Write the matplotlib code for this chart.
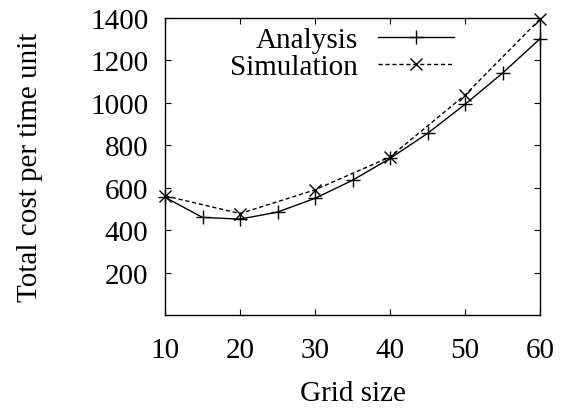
import matplotlib
matplotlib.use("Agg")
import matplotlib.pyplot as plt

grid_analysis = [10, 15, 20, 25, 30, 35, 40, 45, 50, 55, 60]
cost_analysis = [555, 460, 452, 485, 550, 635, 738, 856, 993, 1140, 1302]
grid_sim = [10, 20, 30, 40, 50, 60]
cost_sim = [562, 478, 590, 745, 1037, 1395]
xticks = [10, 20, 30, 40, 50, 60]
yticks = [200, 400, 600, 800, 1000, 1200, 1400]

plt.rcParams['font.family'] = ['Liberation Serif', 'DejaVu Serif']
plt.rcParams['font.size'] = 21

fig = plt.figure(figsize=(5.71, 4.10), dpi=100)
ax = fig.add_axes([165/571, 1-316/410, 375/571, 297/410])

ax.plot(grid_analysis, cost_analysis, color='black', lw=1.0, marker='+',
        markersize=10, markeredgewidth=1.0, label='Analysis', clip_on=False)
ax.plot(grid_sim, cost_sim, color='black', lw=1.0, ls=(0, (3, 2)), marker='x',
        markersize=9, markeredgewidth=1.0, label='Simulation', clip_on=False)

ax.set_xlim(10, 60)
ax.set_ylim(0, 1400)
ax.set_xticks(xticks)
ax.set_yticks(yticks)
ax.tick_params(direction='in', top=True, right=True, length=4, width=0.8)
ax.tick_params(axis='y', pad=12)
ax.tick_params(axis='x', pad=16)
for s in ax.spines.values():
    s.set_linewidth(1.0)

ax.set_xlabel('Grid size', labelpad=12)
ax.set_ylabel('Total cost per time unit', labelpad=34)

leg = ax.legend(loc='upper right', bbox_to_anchor=(0.77, 0.97), frameon=False,
                markerfirst=False, handlelength=2.6, handletextpad=0.7,
                labelspacing=0.0, borderaxespad=0, borderpad=0)

fig.savefig('out.png', dpi=100)
